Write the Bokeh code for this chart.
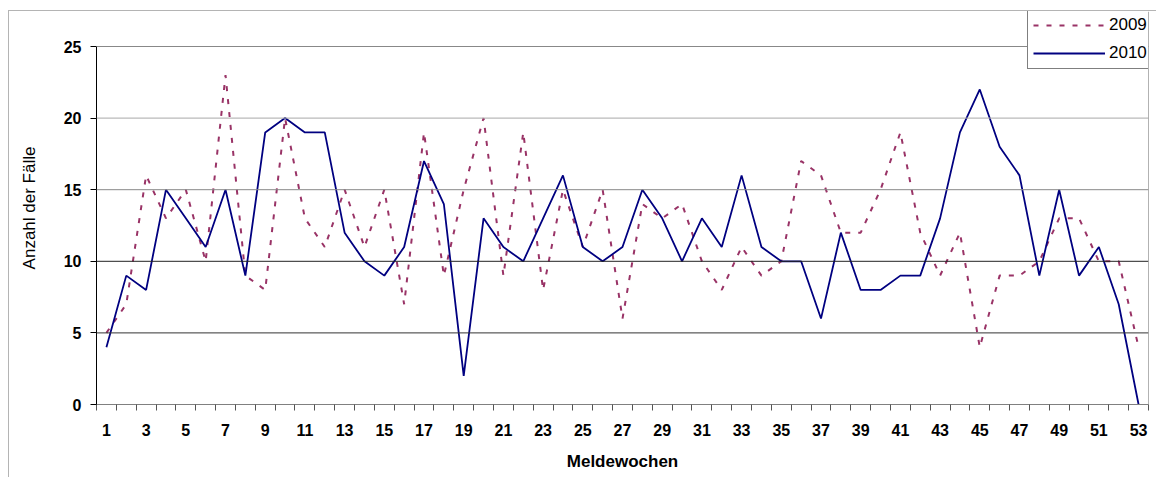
from bokeh.plotting import figure
from bokeh.models import ColumnDataSource, FixedTicker, Span, Legend, LegendItem, Range1d
from bokeh.embed import file_html
from bokeh.resources import INLINE

# ---------------- data ----------------
weeks = list(range(1, 54))
cases_2009 = [5, 7, 16, 13, 15, 10, 23, 9, 8, 20,
              13, 11, 15, 11, 15, 7, 19, 9, 15, 20,
              9, 19, 8, 15, 11, 15, 6, 14, 13, 14,
              10, 8, 11, 9, 10, 17, 16, 12, 12, 15,
              19, 12, 9, 12, 4, 9, 9, 10, 13, 13,
              10, 10, 4]
cases_2010 = [4, 9, 8, 15, 13, 11, 15, 9, 19, 20,
              19, 19, 12, 10, 9, 11, 17, 14, 2, 13,
              11, 10, 13, 16, 11, 10, 11, 15, 13, 10,
              13, 11, 16, 11, 10, 10, 6, 12, 8, 8,
              9, 9, 13, 19, 22, 18, 16, 9, 15, 9,
              11, 7, 0]
series_names = ["2009", "2010"]
y_ticks = [0, 5, 10, 15, 20, 25]
x_label_weeks = list(range(1, 54, 2))
grid_levels = [5, 10, 15, 20, 25]
x_title = "Meldewochen"
y_title = "Anzahl der Fälle"

# ---------------- styles ----------------
FONT = "Liberation Sans"
grid_color = {5: "#333333", 10: "#222222", 15: "#888888", 20: "#a8a8a8", 25: "#888888"}

src = ColumnDataSource(dict(week=weeks, y2009=cases_2009, y2010=cases_2010))

x_lo, x_hi = weeks[0] - 0.5, weeks[-1] + 0.5
y_lo, y_hi = y_ticks[0], y_ticks[-1]

p = figure(width=1148, height=467,
           x_range=Range1d(x_lo, x_hi),
           y_range=Range1d(y_lo, y_hi + 35 / 14.32),   # headroom for the legend
           output_backend="svg", toolbar_location=None,
           min_border_left=87, min_border_right=9,
           min_border_top=0, min_border_bottom=74)
p.styles = {"margin-left": "8px", "margin-top": "10px",
            "border-left": "1px solid #b4b4b4", "border-top": "1px solid #b4b4b4"}

p.background_fill_color = "white"
p.border_fill_color = "white"
p.outline_line_color = None
p.xgrid.visible = False
p.ygrid.visible = False

for lv in grid_levels:
    p.add_layout(Span(location=lv, dimension="width",
                      line_color=grid_color[lv], line_width=1))
# right edge of the plot area
p.add_layout(Span(location=x_hi, dimension="height", line_color="#666666", line_width=1))

# x axis: labels on odd weeks, tick marks between categories
xa = p.xaxis[0]
xa.ticker = FixedTicker(ticks=x_label_weeks,
                        minor_ticks=[w - 0.5 for w in weeks] + [x_hi])
xa.major_tick_line_color = None
xa.major_tick_out = 0
xa.major_tick_in = 0
xa.minor_tick_line_color = "#555555"
xa.minor_tick_out = 6
xa.minor_tick_in = 0
xa.axis_line_color = "#808080"
xa.major_label_text_font = FONT
xa.major_label_text_font_size = "16px"
xa.major_label_text_font_style = "bold"
xa.major_label_text_color = "black"
xa.major_label_standoff = 13
xa.axis_label = x_title
xa.axis_label_text_font = FONT
xa.axis_label_text_font_size = "17px"
xa.axis_label_text_font_style = "bold"
xa.axis_label_text_color = "black"
xa.axis_label_standoff = 13

ya = p.yaxis[0]
ya.ticker = FixedTicker(ticks=y_ticks, minor_ticks=[])
ya.bounds = (y_lo, y_hi)
ya.axis_line_color = "black"
ya.major_tick_line_color = "black"
ya.major_tick_out = 6
ya.major_tick_in = 0
ya.minor_tick_line_color = None
ya.major_label_text_font = FONT
ya.major_label_text_font_size = "16px"
ya.major_label_text_font_style = "bold"
ya.major_label_text_color = "black"
ya.major_label_standoff = 9
ya.axis_label = y_title
ya.axis_label_text_font = FONT
ya.axis_label_text_font_size = "17px"
ya.axis_label_text_font_style = "normal"
ya.axis_label_text_color = "black"
ya.axis_label_standoff = 22

r09 = p.line("week", "y2009", source=src, line_color="#993366",
             line_width=2, line_dash="5 8")
r10 = p.line("week", "y2010", source=src, line_color="#000080",
             line_width=1.8)

legend = Legend(items=[LegendItem(label=series_names[0], renderers=[r09]),
                       LegendItem(label=series_names[1], renderers=[r10])],
                location=(931, 335))
legend.border_line_color = "black"
legend.border_line_width = 1
legend.background_fill_color = "white"
legend.background_fill_alpha = 1
legend.label_text_font = FONT
legend.label_text_font_size = "17px"
legend.label_text_color = "black"
legend.glyph_width = 72
legend.glyph_height = 20
legend.label_height = 20
legend.label_standoff = 4
legend.spacing = 8
legend.padding = 5
legend.margin = 0
p.add_layout(legend, "center")

open("out.html", "w").write(file_html(p, INLINE))
